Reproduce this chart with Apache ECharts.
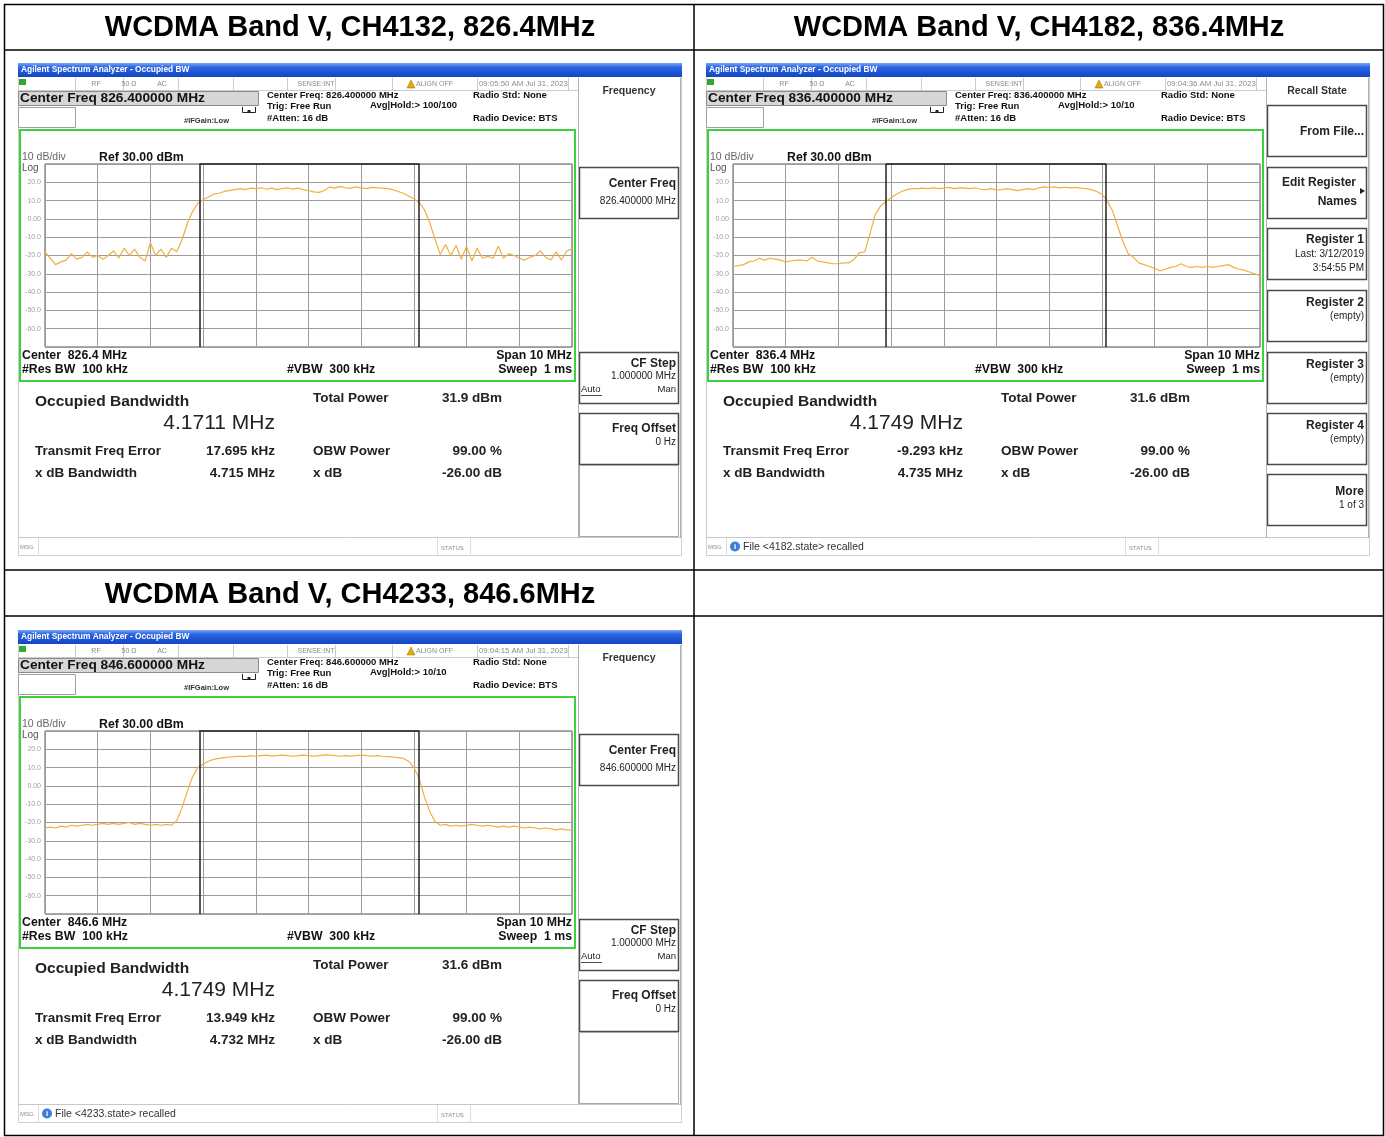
<!DOCTYPE html>
<html>
<head>
<meta charset="utf-8">
<title>WCDMA Band V - Occupied BW</title>
<script src="https://cdn.jsdelivr.net/npm/echarts@6/dist/echarts.min.js"></script>
<style>
  html, body { margin: 0; padding: 0; background: #fff; }
  #main { width: 1385px; height: 1137px; }
</style>
</head>
<body>
<div id="main"></div>
<script>
const TITLES = ['WCDMA Band V, CH4132, 826.4MHz', 'WCDMA Band V, CH4182, 836.4MHz', 'WCDMA Band V, CH4233, 846.6MHz'];
const CENTER_MHZ = [826.4, 836.4, 846.6];
const OBW_MHZ = [4.1711, 4.1749, 4.1749];
const FREQ_ERR_KHZ = [17.695, -9.293, 13.949];
const TOTAL_POWER_DBM = [31.9, 31.6, 31.6];
const XDB_BW_MHZ = [4.715, 4.735, 4.732];
const OBW_POWER_PCT = [99.00, 99.00, 99.00];
const XDB_DB = [-26.00, -26.00, -26.00];
const AVG_HOLD = ['100/100', '10/10', '10/10'];
const TIMESTAMPS = ['09:05:50 AM Jul 31, 2023', '09:04:36 AM Jul 31, 2023', '09:04:15 AM Jul 31, 2023'];
const MSGS = ['', 'File <4182.state> recalled', 'File <4233.state> recalled'];

// y scale: Ref 30 dBm, 10 dB/div
const Y_TICK_VALUES = [-70, -60, -50, -40, -30, -20, -10, 0, 10, 20, 30];
const Y_TICK_LABELS = ['', '-60.0', '-50.0', '-40.0', '-30.0', '-20.0', '-10.0', '0.00', '10.0', '20.0', ''];

// sweep: 101 trace points over a 10 MHz span (x = offset from center, MHz)
const SPAN_MHZ = 10;

const TRACE_4132 = [
  -18, -21.5, -25, -23.5, -22.5, -19, -22, -21, -18, -21,
  -20, -22, -20, -17.5, -21.5, -16, -20, -16.5, -21, -23,
  -13, -20, -16.5, -21, -16, -18, -11.5, -2.5, 4, 8.5,
  10.5, 12, 13.5, 14, 15, 15.5, 16, 16.5, 16, 16.8,
  16.5, 17, 16.2, 16.8, 16, 16.5, 17, 16.3, 16.8, 16,
  15.5, 14.8, 14.5, 15.5, 17.5, 16.8, 17.8, 17, 16.8, 17.5,
  17, 16.5, 17.2, 17, 16.8, 16.5, 16, 15, 14, 12.5,
  11, 9, 5, -2, -11, -19.5, -14, -20, -14.5, -22,
  -15, -23, -16, -21.5, -20.5, -21.5, -15, -21.5, -19, -20,
  -21.5, -22.5, -21, -20, -17.5, -21, -22.5, -18, -22.5, -17.5,
  -16.5
];
const TRACE_4182 = [
  -26, -25.5, -25, -23.5, -23, -21.5, -22.5, -21.5, -22, -22.5,
  -23.5, -23, -22.5, -22.5, -23, -21, -23, -23.5, -24, -24.5,
  -24.5, -24, -24, -22, -18.5, -18, -8, 2.5, 7, 9.5,
  11.5, 13.5, 15, 16, 16.5, 16.5, 16.8, 16.5, 17, 16.5,
  16.8, 17.2, 16.5, 17, 16.8, 16.5, 17, 16.2, 16, 16.5,
  15.8, 16, 16.5, 16, 15.5, 16, 16.5, 16, 17, 17.5,
  17.2, 17.5, 17, 17.3, 17, 17.2, 16.8, 16.5, 16, 15,
  13.5, 10, 4.5, -4, -12.5, -19, -21, -24, -25, -26,
  -27, -28.5, -27.5, -26.5, -26, -24.5, -26, -26.5, -26, -26.5,
  -26, -26.5, -26, -25.5, -25, -26.5, -27.5, -28, -29, -30,
  -31
];
const TRACE_4233 = [
  -23, -22.5, -23, -22, -22.5, -21.5, -22, -21.5, -21, -21.5,
  -21, -20.5, -21, -20.5, -21, -20.5, -20, -21, -20.5, -21,
  -21.5, -21, -21.5, -21, -21.5, -19, -12, -3, 5, 10,
  12, 13.5, 14.5, 15, 15.5, 15.8, 16, 16.2, 16, 16.5,
  16.2, 16.5, 16.8, 16.3, 16.5, 16.8, 16.5, 16.2, 16.5, 16.8,
  16.5, 16.3, 16.5, 17, 16.8, 16.5, 16.2, 16.5, 16.3, 16.5,
  16.8, 16.5, 16.3, 16.5, 16.2, 16, 15.8, 15.5, 15, 13.5,
  10, 4, -6, -14, -19.5, -21.5, -21, -22, -21.5, -22,
  -21.5, -21, -21.5, -22, -21.5, -22, -22.5, -22, -22.5, -22,
  -22.5, -23, -22.5, -23, -23.5, -23, -23.5, -24, -23.5, -24,
  -24
];
const TRACES = [TRACE_4132, TRACE_4182, TRACE_4233];

// ---- layout / style ----
const FONT = '"Liberation Sans", Arial, Helvetica, sans-serif';
const TRACE_COLOR = '#f0b040';
const GREEN = '#3fd03f';
const PANEL_POS = [[0, 0], [688, 0], [0, 567]];
const KEY_TOPS = [105, 167, 228, 290, 352, 413, 474];

const chart = echarts.init(document.getElementById('main'));

function text(x, y, s, size, o) {
  o = o || {};
  return {
    type: 'text', z: 10, silent: true,
    style: {
      x: x, y: y, text: s,
      font: (o.bold ? 'bold ' : '') + size + 'px ' + FONT,
      fill: o.color || '#111',
      textAlign: o.align || 'left', align: o.align || 'left',
      textVerticalAlign: 'middle', verticalAlign: 'middle'
    }
  };
}
function rect(x, y, w, h, fill, stroke, lw) {
  return {
    type: 'rect', z: 1, silent: true,
    shape: { x: x, y: y, width: w, height: h },
    style: { fill: fill || 'none', stroke: stroke || 'none', lineWidth: lw || 1 }
  };
}
function line(x1, y1, x2, y2, stroke, lw) {
  return {
    type: 'line', z: 3, silent: true,
    shape: { x1: x1, y1: y1, x2: x2, y2: y2 },
    style: { stroke: stroke || '#000', lineWidth: lw || 1 }
  };
}

function softkeys(p) {
  if (p === 1) {
    return {
      title: 'Recall State',
      keys: [
        { slot: 0, lines: [['From File...', 27, 12, true]] },
        { slot: 1, lines: [['Edit Register', 16, 12, true, 668], ['Names', 35, 12, true, 669]], arrow: true },
        { slot: 2, lines: [['Register 1', 12, 12, true], ['Last: 3/12/2019', 26, 10], ['3:54:55 PM', 40, 10]] },
        { slot: 3, lines: [['Register 2', 13, 12, true], ['(empty)', 26, 10]] },
        { slot: 4, lines: [['Register 3', 13, 12, true], ['(empty)', 26, 10]] },
        { slot: 5, lines: [['Register 4', 13, 12, true], ['(empty)', 26, 10]] },
        { slot: 6, lines: [['More', 18, 12, true], ['1 of 3', 31, 10]] }
      ]
    };
  }
  return {
    title: 'Frequency',
    keys: [
      { slot: 1, lines: [['Center Freq', 17, 12, true], [CENTER_MHZ[p].toFixed(6) + ' MHz', 34, 10]] },
      { slot: 4, lines: [['CF Step', 12, 12, true], ['1.000000 MHz', 24, 10]], autoMan: true },
      { slot: 5, lines: [['Freq Offset', 16, 12, true], ['0 Hz', 29, 10]] }
    ],
    filler: true
  };
}

function panelGraphics(p) {
  const ox = PANEL_POS[p][0], oy = PANEL_POS[p][1];
  const g = [];
  const T = (x, y, s, size, o) => g.push(text(x + ox, y + oy, s, size, o));
  const R = (x, y, w, h, fill, stroke, lw) => g.push(rect(x + ox, y + oy, w, h, fill, stroke, lw));
  const L = (x1, y1, x2, y2, stroke, lw) => g.push(line(x1 + ox, y1 + oy, x2 + ox, y2 + oy, stroke, lw));
  const grey = '#8a8a8a';

  // screen outline and title bar (no fill so the graticule underneath stays visible)
  R(18.5, 63.5, 663, 492, 'none', '#cfcfcf', 1);
  g.push({
    type: 'rect', z: 2, silent: true,
    shape: { x: 18 + ox, y: 63 + oy, width: 664, height: 14 },
    style: {
      fill: new echarts.graphic.LinearGradient(0, 0, 0, 1, [
        { offset: 0, color: '#7aa4f4' }, { offset: 0.3, color: '#2a64e2' }, { offset: 1, color: '#1446c2' }
      ])
    }
  });
  T(21, 70, 'Agilent Spectrum Analyzer - Occupied BW', 8.4, { bold: true, color: '#ffffff' });

  // status row
  R(19, 79, 7, 6, '#34a834');
  [75, 123, 178, 233, 287, 335, 392, 477, 568].forEach(x => L(x + 0.5, 78, x + 0.5, 90, '#cccccc'));
  L(18, 90.5, 578, 90.5, '#cccccc');
  T(96, 84, 'RF', 7, { color: grey, align: 'center' });
  T(129, 84, '50 \u03A9', 7, { color: grey, align: 'center' });
  T(162, 84, 'AC', 7, { color: grey, align: 'center' });
  T(316, 84, 'SENSE:INT', 7, { color: grey, align: 'center' });
  g.push({
    type: 'polygon', z: 4, silent: true,
    shape: { points: [[407 + ox, 88 + oy], [411 + ox, 80 + oy], [415 + ox, 88 + oy]] },
    style: { fill: '#e0b000', stroke: '#8a6a00', lineWidth: 0.5 }
  });
  T(416, 84, 'ALIGN OFF', 7, { color: grey });
  T(479, 84, TIMESTAMPS[p], 7.8, { color: grey });

  // center freq entry
  R(18.5, 91.5, 240, 14, '#d6d6d6', '#8c8c8c', 1);
  T(20, 98.5, 'Center Freq ' + CENTER_MHZ[p].toFixed(6) + ' MHz', 13.7, { bold: true, color: '#111' });
  R(18.5, 107.5, 57, 20, '#ffffff', '#a0a0a0', 1);
  T(184, 121, '#IFGain:Low', 7.5, { bold: true, color: '#333' });
  g.push({
    type: 'polyline', z: 4, silent: true,
    shape: { points: [[242.5 + ox, 107 + oy], [242.5 + ox, 112.5 + oy], [255.5 + ox, 112.5 + oy], [255.5 + ox, 107 + oy]] },
    style: { stroke: '#222', lineWidth: 1, fill: 'none' }
  });
  R(247.5, 110, 3, 3, '#222');

  // acquisition settings
  T(267, 95, 'Center Freq: ' + CENTER_MHZ[p].toFixed(6) + ' MHz', 9.5, { bold: true });
  T(267, 106, 'Trig: Free Run', 9.5, { bold: true });
  T(267, 118, '#Atten: 16 dB', 9.5, { bold: true });
  T(370, 105, 'Avg|Hold:> ' + AVG_HOLD[p], 9.5, { bold: true });
  T(473, 95, 'Radio Std: None', 9.5, { bold: true });
  T(473, 118, 'Radio Device: BTS', 9.5, { bold: true });

  // graticule frame and annotations
  g.push(rect(20 + ox, 130 + oy, 555, 251, 'none', GREEN, 2));
  T(22, 157.5, '10 dB/div', 10.5, { color: '#666' });
  T(99, 157.5, 'Ref 30.00 dBm', 12.3, { bold: true });
  T(22, 168, 'Log', 10, { color: '#555' });
  T(22, 355.5, 'Center  ' + CENTER_MHZ[p].toFixed(1) + ' MHz', 12.3, { bold: true });
  T(22, 369.5, '#Res BW  100 kHz', 12.3, { bold: true });
  T(287, 369.5, '#VBW  300 kHz', 12.3, { bold: true });
  T(572, 355.5, 'Span 10 MHz', 12.3, { bold: true, align: 'right' });
  T(572, 369.5, 'Sweep  1 ms', 12.3, { bold: true, align: 'right' });

  // results table
  L(18.5, 383, 18.5, 537, '#c8c8c8');
  T(35, 401.5, 'Occupied Bandwidth', 15.5, { bold: true, color: '#222' });
  T(275, 423, OBW_MHZ[p].toFixed(4) + ' MHz', 21, { color: '#222', align: 'right' });
  T(313, 398.5, 'Total Power', 13.5, { bold: true, color: '#222' });
  T(502, 398.5, TOTAL_POWER_DBM[p].toFixed(1) + ' dBm', 13.5, { bold: true, color: '#222', align: 'right' });
  T(35, 451, 'Transmit Freq Error', 13.5, { bold: true, color: '#222' });
  T(275, 451, FREQ_ERR_KHZ[p].toFixed(3) + ' kHz', 13.5, { bold: true, color: '#222', align: 'right' });
  T(313, 451, 'OBW Power', 13.5, { bold: true, color: '#222' });
  T(502, 451, OBW_POWER_PCT[p].toFixed(2) + ' %', 13.5, { bold: true, color: '#222', align: 'right' });
  T(35, 473.5, 'x dB Bandwidth', 13.5, { bold: true, color: '#222' });
  T(275, 473.5, XDB_BW_MHZ[p].toFixed(3) + ' MHz', 13.5, { bold: true, color: '#222', align: 'right' });
  T(313, 473.5, 'x dB', 13.5, { bold: true, color: '#222' });
  T(502, 473.5, XDB_DB[p].toFixed(2) + ' dB', 13.5, { bold: true, color: '#222', align: 'right' });

  // message / status bar
  L(18, 537.5, 681, 537.5, '#c8c8c8');
  L(38.5, 538, 38.5, 555, '#dddddd');
  L(437.5, 538, 437.5, 555, '#dddddd');
  L(470.5, 538, 470.5, 555, '#dddddd');
  T(20, 547.5, 'MSG', 6, { color: grey });
  T(441, 548, 'STATUS', 6, { color: grey });
  if (MSGS[p]) {
    g.push({
      type: 'circle', z: 4, silent: true,
      shape: { cx: 47 + ox, cy: 546.5 + oy, r: 5 },
      style: { fill: '#3b7fd8' }
    });
    T(47, 546.5, 'i', 8, { bold: true, color: '#fff', align: 'center' });
    T(55, 547.5, MSGS[p], 10.5, { color: '#333' });
  }

  // softkey column
  const sk = softkeys(p);
  L(578.5, 78, 578.5, 538, '#b0b0b0');
  L(680.5, 78, 680.5, 538, '#b0b0b0');
  T(629, 91.5, sk.title, 10.5, { bold: true, color: '#333', align: 'center' });
  sk.keys.forEach(k => {
    const top = KEY_TOPS[k.slot];
    R(579.5, top + 0.5, 99, 51, '#ffffff', '#4a4a4a', 1.5);
    k.lines.forEach(l => {
      T(l[4] || 676, top + l[1], l[0], l[2], { bold: !!l[3], color: '#222', align: 'right' });
    });
    if (k.arrow) {
      g.push({
        type: 'polygon', z: 4, silent: true,
        shape: { points: [[672 + ox, top + 21 + oy], [677 + ox, top + 24 + oy], [672 + ox, top + 27 + oy]] },
        style: { fill: '#222' }
      });
    }
    if (k.autoMan) {
      T(581, top + 37, 'Auto', 9.5, { color: '#222' });
      L(581, top + 43.5, 602, top + 43.5, '#222', 0.8);
      T(676, top + 37, 'Man', 9.5, { color: '#222', align: 'right' });
    }
  });
  if (sk.filler) R(579.5, 465.5, 99, 71, 'none', '#a8a8a8', 1);
  return g;
}

// ---- table frame and titles ----
const tableGraphics = [
  rect(4.5, 4.5, 1379, 1131, 'none', '#000', 1.5),
  line(694, 4, 694, 1136, '#000', 1.5),
  line(4, 50, 1384, 50, '#000', 1.5),
  line(4, 570, 1384, 570, '#000', 1.5),
  line(4, 616, 1384, 616, '#000', 1.5),
  text(350, 27.5, TITLES[0], 29, { bold: true, color: '#000', align: 'center' }),
  text(1039, 27.5, TITLES[1], 29, { bold: true, color: '#000', align: 'center' }),
  text(350, 594.5, TITLES[2], 29, { bold: true, color: '#000', align: 'center' })
];

let elements = tableGraphics.slice();
[0, 1, 2].forEach(p => { elements = elements.concat(panelGraphics(p)); });

// ---- traces on the analyzer graticules ----
const grids = [], xAxes = [], yAxes = [], series = [];
TRACES.forEach((vals, p) => {
  const ox = PANEL_POS[p][0], oy = PANEL_POS[p][1];
  grids.push({
    left: 45 + ox, top: 164 + oy, width: 527, height: 183,
    show: true, borderColor: '#555555', borderWidth: 1
  });
  xAxes.push({
    type: 'value', gridIndex: p, min: -SPAN_MHZ / 2, max: SPAN_MHZ / 2, interval: 1,
    axisLine: { show: false }, axisTick: { show: false }, axisLabel: { show: false },
    splitLine: { show: true, lineStyle: { color: '#9c9c9c', width: 1 } }
  });
  yAxes.push({
    type: 'value', gridIndex: p, min: Y_TICK_VALUES[0], max: Y_TICK_VALUES[Y_TICK_VALUES.length - 1], interval: 10,
    axisLine: { show: false }, axisTick: { show: false },
    axisLabel: {
      show: true, margin: 4, fontSize: 7, color: '#a0a0a0', fontFamily: FONT,
      formatter: v => Y_TICK_LABELS[Y_TICK_VALUES.indexOf(v)] || ''
    },
    splitLine: { show: true, lineStyle: { color: '#9c9c9c', width: 1 } }
  });
  const step = SPAN_MHZ / (vals.length - 1);
  const mid = FREQ_ERR_KHZ[p] / 1000;
  const lo = mid - OBW_MHZ[p] / 2, hi = mid + OBW_MHZ[p] / 2;
  series.push({
    type: 'line', xAxisIndex: p, yAxisIndex: p,
    data: vals.map((v, i) => [-SPAN_MHZ / 2 + i * step, v]),
    showSymbol: false, symbol: 'none', smooth: false,
    lineStyle: { color: TRACE_COLOR, width: 1.2 },
    markLine: {
      silent: true, symbol: ['none', 'none'], label: { show: false },
      lineStyle: { color: '#222', width: 1.5, type: 'solid' },
      animation: false,
      data: [
        { xAxis: lo }, { xAxis: hi },
        [{ coord: [lo, 30] }, { coord: [hi, 30] }]
      ]
    }
  });
});

chart.setOption({
  animation: false,
  backgroundColor: '#ffffff',
  graphic: { elements: elements },
  grid: grids,
  xAxis: xAxes,
  yAxis: yAxes,
  series: series
});
</script>
</body>
</html>
